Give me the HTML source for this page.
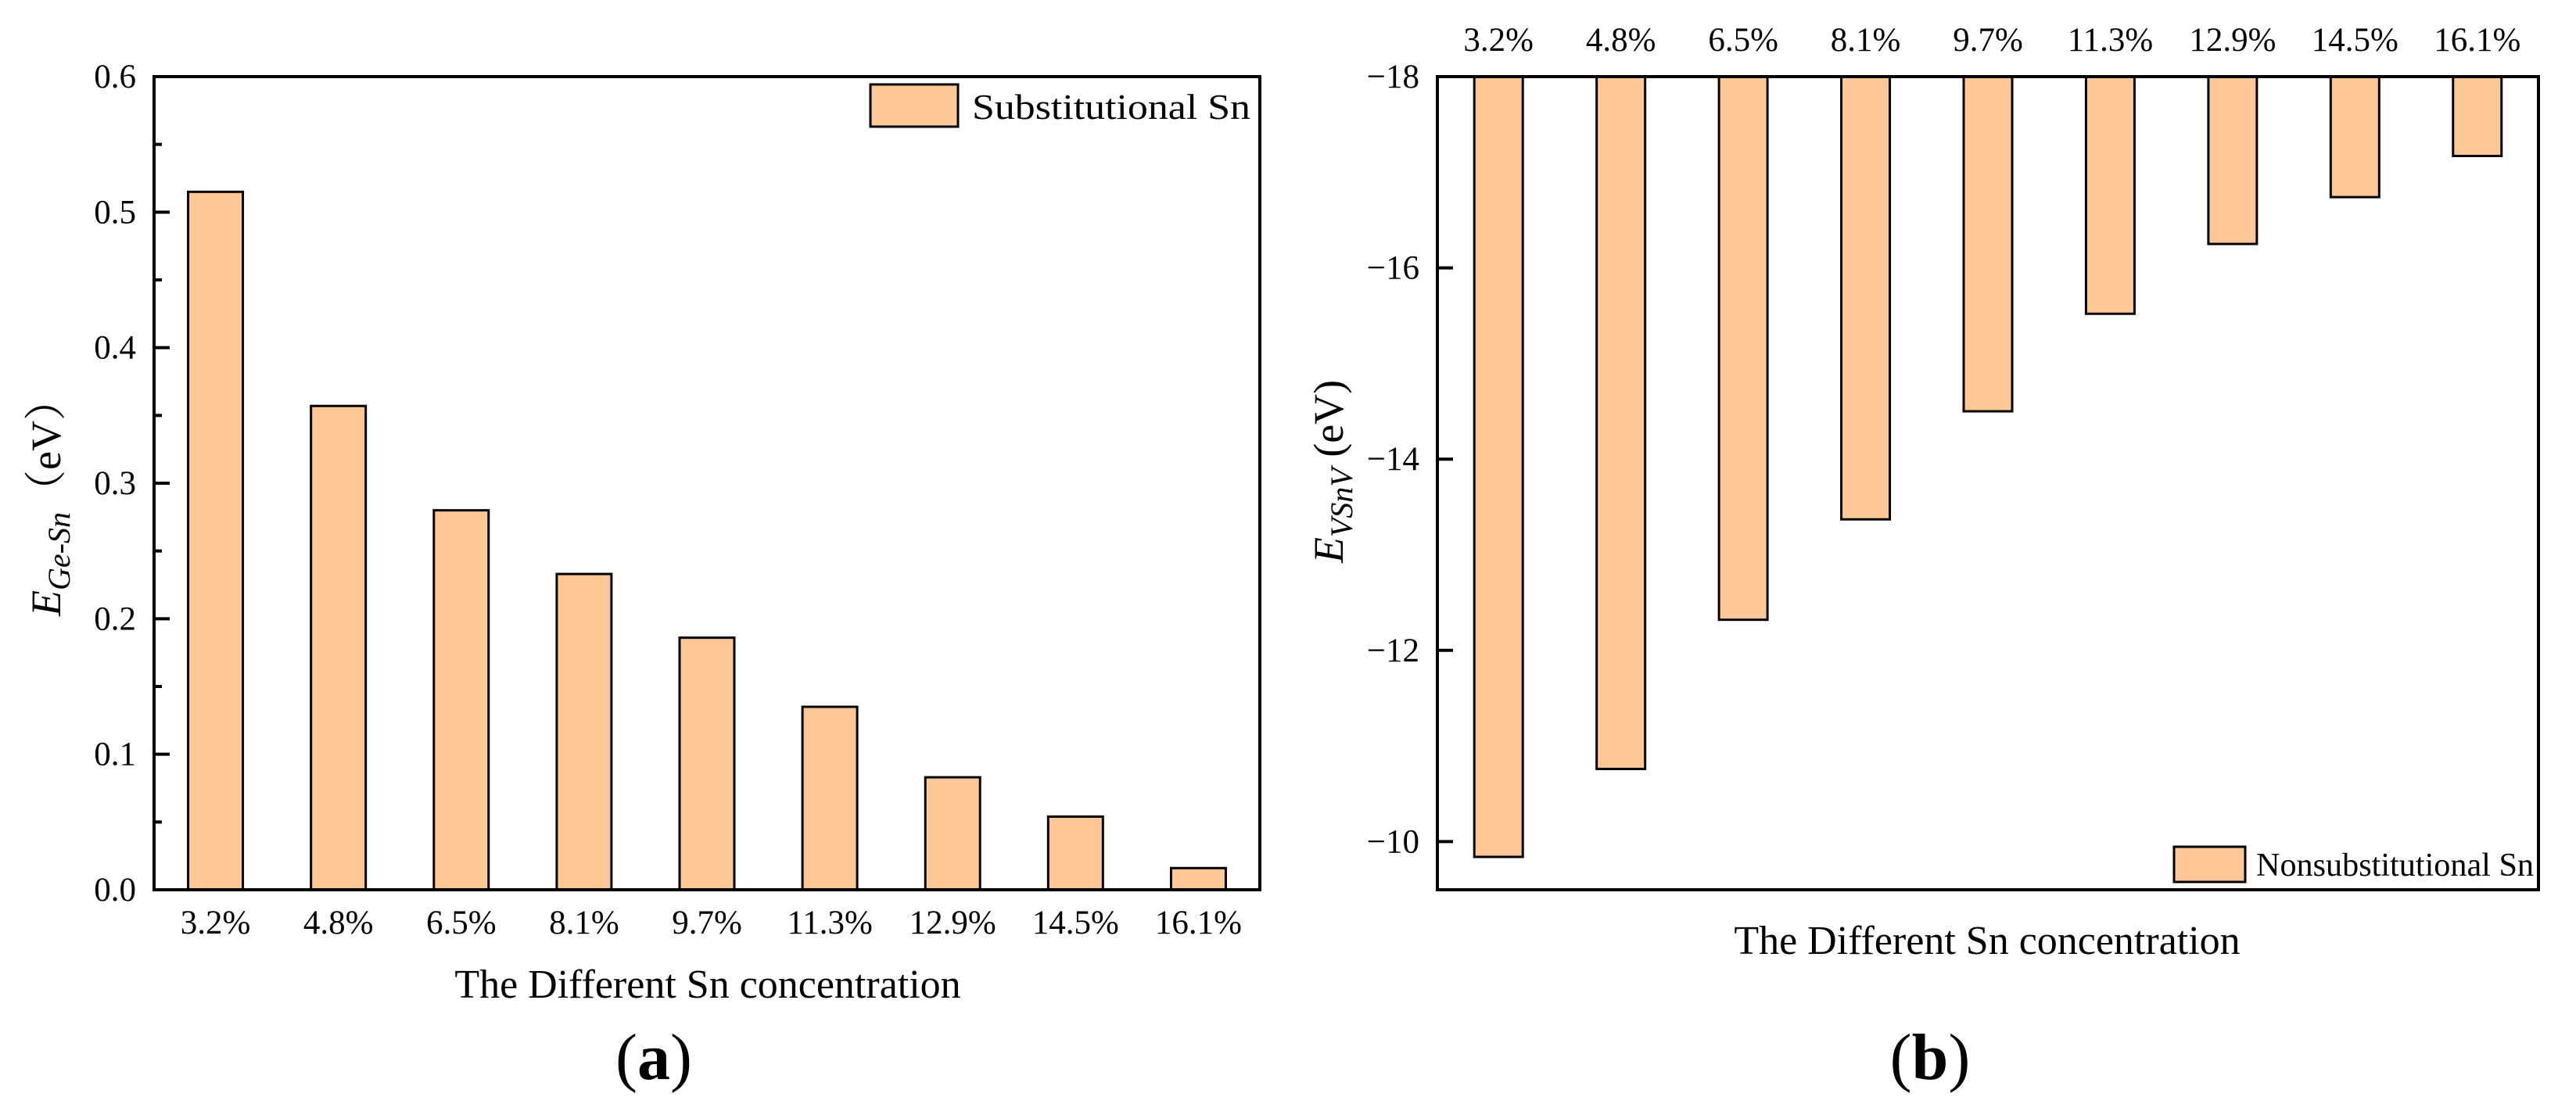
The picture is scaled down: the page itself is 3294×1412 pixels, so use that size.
<!DOCTYPE html>
<html><head><meta charset="utf-8"><style>
html,body{margin:0;padding:0;background:#fff;}
svg{display:block;font-family:"Liberation Serif","Times New Roman",serif;}
</style></head><body>
<svg id="fig" width="3294" height="1412" viewBox="0 0 3294 1412" xmlns="http://www.w3.org/2000/svg">
<g id="pa"></g>
<g id="pb"></g>
</svg>
<script>
const categories = ["3.2%","4.8%","6.5%","8.1%","9.7%","11.3%","12.9%","14.5%","16.1%"];
const valuesA = [0.515,0.357,0.280,0.233,0.186,0.135,0.083,0.054,0.016];
const valuesB = [-9.84,-10.76,-12.32,-13.37,-14.50,-15.52,-16.25,-16.74,-17.17];
const ticksA = [0,0.1,0.2,0.3,0.4,0.5,0.6];
const tickLabelsA = ["0.0","0.1","0.2","0.3","0.4","0.5","0.6"];
const ticksB = [-18,-16,-14,-12,-10];
const tickLabelsB = ["\u221218","\u221216","\u221214","\u221212","\u221210"];
const NS="http://www.w3.org/2000/svg";
const FILL="#FFC896";
function mk(parent,tag,attrs,text){const e=document.createElementNS(NS,tag);for(const k in attrs)e.setAttribute(k,attrs[k]);if(text!==undefined)e.textContent=text;parent.appendChild(e);return e;}

// ---------- chart a ----------
(function(){
const g=document.getElementById('pa');
const L=197,R=1611,T=98,B=1138;
const yA=v=>B-(v-0)/(0.6-0)*(B-T);
const band=(R-L)/categories.length;
const xA=i=>L+band*(i+0.5);
const bw=70;
valuesA.forEach((v,i)=>{
 const r=mk(g,'rect',{x:xA(i)-bw/2,y:yA(v),width:bw,height:B-yA(v),fill:FILL,stroke:'#000','stroke-width':3});
 
 
});
for(let k=0;k<12;k++){const v=k*0.05;const y=yA(v);
 const t=mk(g,'line',{x1:L,x2:L+(k%2?10:20),y1:y,y2:y,stroke:'#000','stroke-width':4});
 
 }
ticksA.forEach((v,i)=>{
 const t=mk(g,'text',{x:174,y:yA(v)+14,'font-size':43,'text-anchor':'end'},tickLabelsA[i]);
 
 });
categories.forEach((c,i)=>{
 const t=mk(g,'text',{x:xA(i),y:1194,'font-size':43,'text-anchor':'middle'},c);
 
 });
const f=mk(g,'rect',{x:L,y:T,width:R-L,height:B-T,fill:'none',stroke:'#000','stroke-width':4});


const xt=mk(g,'text',{x:905,y:1276,'font-size':52,'text-anchor':'middle'},'The Different Sn concentration');


const yt=mk(g,'text',{transform:'translate(77,636) rotate(-90)','font-size':54,'text-anchor':'middle'});


mk(yt,'tspan',{'font-style':'italic'},'E');
mk(yt,'tspan',{'font-style':'italic','font-size':40,dy:12},'Ge-Sn');
mk(yt,'tspan',{dy:-12,'font-family':'"Liberation Serif","Noto Serif CJK SC",serif'},'（eV）');
const lb=mk(g,'rect',{x:1113,y:108,width:112,height:54,fill:FILL,stroke:'#000','stroke-width':3});


const lt=mk(g,'text',{x:1243,y:152,'font-size':46,textLength:356,lengthAdjust:'spacingAndGlyphs'},'Substitutional Sn');


const p=mk(g,'text',{x:836,y:1380,'font-size':84,'text-anchor':'middle'});


mk(p,'tspan',{},'(');mk(p,'tspan',{'font-weight':'bold'},'a');mk(p,'tspan',{},')');
})();

// ---------- chart b ----------
(function(){
const g=document.getElementById('pb');
const L=1838,R=3246,T=98,B=1138;
const yB=v=>T+(v-(-18))*122.3;
const band=(R-L)/categories.length;
const xB=i=>L+band*(i+0.5);
const bw=62;
valuesB.forEach((v,i)=>{
 const r=mk(g,'rect',{x:xB(i)-bw/2,y:T,width:bw,height:yB(v)-T,fill:FILL,stroke:'#000','stroke-width':3});
 
 
});
ticksB.forEach((v,i)=>{const y=yB(v);
 const t=mk(g,'line',{x1:L,x2:L+20,y1:y,y2:y,stroke:'#000','stroke-width':4});
 
 
 const l=mk(g,'text',{x:1815,y:y+14,'font-size':43,'text-anchor':'end'},tickLabelsB[i]);
 
 });
categories.forEach((c,i)=>{
 const t=mk(g,'text',{x:xB(i),y:65,'font-size':43,'text-anchor':'middle'},c);
 
 });
const f=mk(g,'rect',{x:L,y:T,width:R-L,height:B-T,fill:'none',stroke:'#000','stroke-width':4});


const xt=mk(g,'text',{x:2541,y:1220,'font-size':52,'text-anchor':'middle'},'The Different Sn concentration');


const yt=mk(g,'text',{transform:'translate(1717,603) rotate(-90)','font-size':54,'text-anchor':'middle'});


mk(yt,'tspan',{'font-style':'italic'},'E');
mk(yt,'tspan',{'font-style':'italic','font-size':40,dy:12},'VSnV');
mk(yt,'tspan',{dy:-12},' (eV)');
const lb=mk(g,'rect',{x:2780,y:1083,width:91,height:45,fill:FILL,stroke:'#000','stroke-width':3});


const lt=mk(g,'text',{x:2885,y:1120,'font-size':42,textLength:355,lengthAdjust:'spacingAndGlyphs'},'Nonsubstitutional Sn');


const p=mk(g,'text',{x:2468,y:1380,'font-size':84,'text-anchor':'middle'});


mk(p,'tspan',{},'(');mk(p,'tspan',{'font-weight':'bold'},'b');mk(p,'tspan',{},')');
})();
</script>
</body></html>
